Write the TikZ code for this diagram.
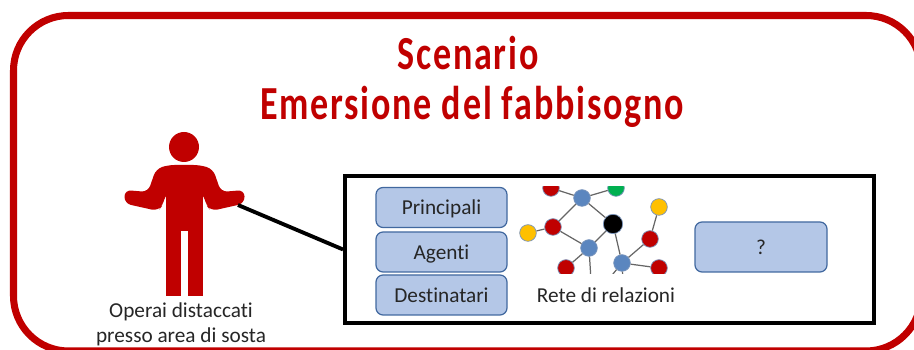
\documentclass[tikz,border=0pt]{standalone}
\usepackage{fontspec}
\setmainfont[Ligatures=NoCommon]{Carlito}
\newfontfamily\titolofont[LetterSpace=5]{Carlito}
\definecolor{rosso}{HTML}{C00000}
\definecolor{azzurro}{HTML}{B4C7E7}
\definecolor{bordo}{HTML}{41689F}
\definecolor{rete}{HTML}{5B86BF}
\definecolor{giallo}{HTML}{FFC000}
\definecolor{verde}{HTML}{00B050}
\tikzset{
  titolo/.style = {text = rosso,font = \fontsize{27pt}{30pt}\selectfont\titolofont\bfseries,xscale = 0.76,transform shape},
  etichetta/.style = {text = black!85,font = \fontsize{12.1pt}{14pt}\selectfont,inner sep = 0pt},
  scatola/.style = {rounded corners = 4pt,draw = bordo,line width = 0.7pt,fill = azzurro,inner sep = 0pt,text = black!85,text height = 10pt,text depth = 2pt,font = \fontsize{12.1pt}{14pt}\selectfont},
  nodo/.style = {circle,draw = bordo!70,line width = 0.4pt,minimum size = 9.5pt,inner sep = 0pt},
  arco/.style = {draw = black!60,line width = 0.7pt}
}
\begin{document}
\begin{tikzpicture}[x = 0.02cm,y = 0.02cm]
\useasboundingbox (0,0) rectangle (914,350);
\clip (0,0) rectangle (914,350);
\draw[rosso,line width = 4pt,rounded corners = 1.1cm] (13.5,-1) rectangle (921,334.5);
\node[titolo](t1) at(468,297){Scenario};
\node[titolo](t2) at(472,243){Emersione del fabbisogno};
% omino
\fill[rosso] (184,203) circle (15);
\fill[rosso,rounded corners = 3.7pt] (168,185) -- (156,181) -- (148,158) -- (124.5,160) -- (124.5,146.5) -- (158,139) -- (163,145) -- (166,157) -- (203,157) -- (206,145) -- (211,139) -- (244.5,146.5) -- (244.5,160) -- (221,158) -- (213,181) -- (200,185) -- cycle;
\fill[rosso] (166,119) rectangle (203,158);
\fill[rosso] (166,54) rectangle (181,120);
\fill[rosso] (188,54) rectangle (203,120);
\coordinate (hand) at(238,145);
\node[etichetta](v1) at(181,38){Operai distaccati};
\node[etichetta](v2) at(181,13){presso area di sosta};
% riquadro
\node[draw = black,line width = 2.2pt,minimum width = 529*0.02cm,minimum height = 147*0.02cm,inner sep = 0pt](box) at(609.5,100.5){};
\draw[black,line width = 2.2pt](hand)--(box.west);
\node[scatola,minimum width = 131*0.02cm,minimum height = 40*0.02cm](s1) at(441.5,142.5){Principali};
\node[scatola,minimum width = 131*0.02cm,minimum height = 40*0.02cm](s2) at(441.5,98){Agenti};
\node[scatola,minimum width = 131*0.02cm,minimum height = 40*0.02cm](s3) at(441.5,55){Destinatari};
\node[scatola,minimum width = 132*0.02cm,minimum height = 50*0.02cm](s4) at(761,103){?};
\node[etichetta](v3) at(606,55){Rete di relazioni};
% rete
\begin{scope}
\clip (515,76) rectangle (670,163);
\coordinate (e1) at(591,70);
\coordinate (e2) at(608,70);
\coordinate (e3) at(623,70);
\node[nodo,fill = rete](n1) at(582,152){};
\node[nodo,fill = verde](n2) at(616,162){};
\node[nodo,fill = rosso](n3) at(551,162){};
\node[nodo,fill = black,minimum size = 11pt](n4) at(613,126){};
\node[nodo,fill = rosso](n5) at(553,123){};
\node[nodo,fill = giallo](n6) at(528,117){};
\node[nodo,fill = rete](n7) at(589,102){};
\node[nodo,fill = rosso](n8) at(566,82){};
\node[nodo,fill = rete](n9) at(622,87){};
\node[nodo,fill = rosso](n10) at(650,111){};
\node[nodo,fill = giallo](n11) at(659,143){};
\node[nodo,fill = rosso](n12) at(659,82){};
\draw[arco](n1)--(n2);
\draw[arco](n1)--(n3);
\draw[arco](n1)--(n4);
\draw[arco](n1)--(n5);
\draw[arco](n5)--(n6);
\draw[arco](n5)--(n7);
\draw[arco](n4)--(n7);
\draw[arco](n4)--(n9);
\draw[arco](n7)--(n8);
\draw[arco](n7)--(e1);
\draw[arco](n9)--(e2);
\draw[arco](n9)--(e3);
\draw[arco](n9)--(n10);
\draw[arco](n9)--(n12);
\draw[arco](n10)--(n11);
\end{scope}
\end{tikzpicture}
\end{document}
